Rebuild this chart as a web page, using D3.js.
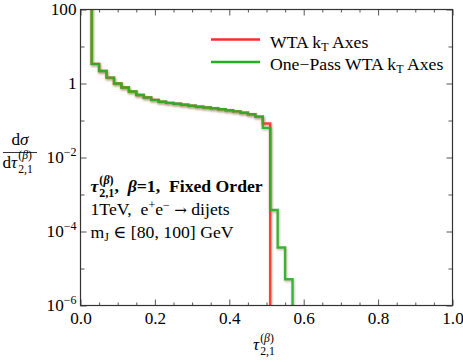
<!DOCTYPE html>
<head>
    <meta charset="utf-8">
    <title>tau21 fixed order</title>
    <style>
        html, body {
            margin: 0;
            background: #fff;
        }

        svg text {
            font-family: "Liberation Serif", "DejaVu Serif", serif;
            fill: #000;
        }
    </style>
</head>
<body>
<script src="https://cdn.jsdelivr.net/npm/d3@7"></script>
<script>

    // histogram bin edges (width 0.02), first bin is off the top of the plot
    const binEdges = [0.01, 0.03, 0.05, 0.07, 0.09, 0.11, 0.13, 0.15, 0.17, 0.19, 0.21, 0.23, 0.25, 0.27, 0.29,
        0.31, 0.33, 0.35, 0.37, 0.39, 0.41, 0.43, 0.45, 0.47, 0.49, 0.51, 0.53, 0.55, 0.57];

    const wtaValues = [1e4, 3.4, 2.17, 1.44, 1.0, 0.78, 0.61, 0.49, 0.42, 0.36, 0.32, 0.30, 0.284, 0.267, 0.251,
        0.236, 0.224, 0.214, 0.202, 0.19, 0.176, 0.162, 0.148, 0.127, 0.083];

    const onePassValues = [1e4, 3.4, 2.17, 1.44, 1.0, 0.78, 0.61, 0.49, 0.42, 0.36, 0.32, 0.30, 0.284, 0.267, 0.251,
        0.236, 0.224, 0.214, 0.202, 0.19, 0.176, 0.162, 0.148, 0.127, 0.063, 3.8e-4, 3.7e-5, 5.1e-6];

    const seriesNames = ["WTA k|T| Axes", "One\u2212Pass WTA k|T| Axes"];
    const seriesColors = ["#ff2a2a", "#22b022"];

    const xTicks = [0, 0.2, 0.4, 0.6, 0.8, 1.0];
    const xTickLabels = ["0.0", "0.2", "0.4", "0.6", "0.8", "1.0"];
    const xMinorTicks = [0.05, 0.1, 0.15, 0.25, 0.3, 0.35, 0.45, 0.5, 0.55, 0.65, 0.7, 0.75, 0.85, 0.9, 0.95];
    const yTicks = [100, 1, 1e-2, 1e-4, 1e-6];
    const yTickLabels = [["100", ""], ["1", ""], ["10", "\u22122"], ["10", "\u22124"], ["10", "\u22126"]];
    const yMinorTicks = [10, 0.1, 1e-3, 1e-5];

    const width = 463,
        height = 362;
    const x0 = 80.5, x1 = 452.5, y0 = 9.5, y1 = 305.5;
    const fs = 17.2, ss = 12;
    const ts = 17.7; // legend and annotation text

    const svg = d3.select("body").append("svg")
        .attr("width", width)
        .attr("height", height);

    const x = d3.scaleLinear().domain([0, 1]).range([x0, x1]);
    const y = d3.scaleLog().domain([1e-6, 100]).range([y1, y0]);

    const defs = svg.append("defs");
    defs.append("clipPath").attr("id", "plot")
        .append("rect").attr("x", x0).attr("y", y0).attr("width", x1 - x0).attr("height", y1 - y0);
    defs.append("filter").attr("id", "shadow")
        .attr("filterUnits", "userSpaceOnUse")
        .attr("x", 0).attr("y", 0).attr("width", width).attr("height", height)
        .append("feDropShadow")
        .attr("dx", 0.6).attr("dy", 1.3).attr("stdDeviation", 1)
        .attr("flood-color", "#8a7444").attr("flood-opacity", 0.6);

    function stepPoints(values) {
        const pts = [];
        values.forEach((v, i) => {
            pts.push([binEdges[i], v]);
            pts.push([binEdges[i + 1], v]);
        });
        pts.push([binEdges[values.length], 1e-9]);
        return pts;
    }

    const line = d3.line().x(d => x(d[0])).y(d => y(Math.max(d[1], 1e-9)));

    const curves = svg.append("g").attr("clip-path", "url(#plot)");
    [wtaValues, onePassValues].forEach((vals, i) => {
        curves.append("path")
            .attr("d", line(stepPoints(vals)))
            .attr("fill", "none")
            .attr("stroke", seriesColors[i])
            .attr("stroke-width", 2.4)
            .attr("stroke-opacity", 0.9)
            .attr("filter", "url(#shadow)");
    });

    // axes: ticks point inward on all four sides
    const gx = svg.append("g").attr("transform", `translate(0,${y1})`)
        .call(d3.axisBottom(x).tickValues(xTicks).tickSize(-6).tickPadding(6)
            .tickFormat((d, i) => xTickLabels[i]));
    svg.append("g").attr("transform", `translate(0,${y1})`)
        .call(d3.axisBottom(x).tickValues(xMinorTicks).tickSize(-3).tickFormat(""));
    svg.append("g").attr("transform", `translate(0,${y0})`)
        .call(d3.axisTop(x).tickValues(xTicks).tickSize(-6).tickFormat(""));
    svg.append("g").attr("transform", `translate(0,${y0})`)
        .call(d3.axisTop(x).tickValues(xMinorTicks).tickSize(-3).tickFormat(""));
    svg.append("g").attr("transform", `translate(${x0},0)`)
        .call(d3.axisLeft(y).tickValues(yTicks).tickSize(-6).tickFormat(""));
    svg.append("g").attr("transform", `translate(${x0},0)`)
        .call(d3.axisLeft(y).tickValues(yMinorTicks).tickSize(-4).tickFormat(""));
    svg.append("g").attr("transform", `translate(${x1},0)`)
        .call(d3.axisRight(y).tickValues(yTicks).tickSize(-6).tickFormat(""));
    svg.append("g").attr("transform", `translate(${x1},0)`)
        .call(d3.axisRight(y).tickValues(yMinorTicks).tickSize(-4).tickFormat(""));

    svg.selectAll(".domain").remove();
    svg.selectAll(".tick line").attr("stroke", "#555").attr("stroke-width", 1);
    gx.selectAll("text")
        .style("font-family", '"Liberation Serif", serif')
        .attr("font-size", fs).attr("fill", "#000");

    // y tick labels with superscript exponents
    yTicks.forEach((v, i) => {
        const t = svg.append("text")
            .attr("x", x0 - 4)
            .attr("y", y(v) + 5.5)
            .attr("text-anchor", "end")
            .attr("font-size", fs);
        t.append("tspan").text(yTickLabels[i][0]);
        if (yTickLabels[i][1]) {
            t.append("tspan").attr("font-size", ss).attr("dy", -7).text(yTickLabels[i][1]);
        }
    });

    svg.append("rect")
        .attr("x", x0).attr("y", y0)
        .attr("width", x1 - x0).attr("height", y1 - y0)
        .attr("fill", "none").attr("stroke", "#333").attr("stroke-width", 1.2);

    // base text followed by stacked subscript and superscript
    function scripted(g, px, py, base, sub, sup, opts) {
        const size = opts.size || fs;
        const t = g.append("text").attr("x", px).attr("y", py)
            .attr("font-size", size).attr("font-weight", opts.bold ? "bold" : null);
        base.forEach(b => t.append("tspan").attr("font-style", b.italic ? "italic" : null).text(b.text));
        const w = t.node().getComputedTextLength();
        const s1 = g.append("text").attr("x", px + w + 1).attr("y", py + size * 0.3)
            .attr("font-size", size * 0.68).attr("font-weight", opts.bold ? "bold" : null).text(sub);
        const s2 = g.append("text").attr("x", px + w + 1).attr("y", py - size * 0.48)
            .attr("font-size", size * 0.68).attr("font-weight", opts.bold ? "bold" : null);
        s2.append("tspan").text("(");
        s2.append("tspan").attr("font-style", "italic").text("\u03b2");
        s2.append("tspan").text(")");
        if (!sup) s2.remove();
        return px + w + 1 + Math.max(s1.node().getComputedTextLength(),
            sup ? s2.node().getComputedTextLength() : 0);
    }

    // y label as a fraction
    const yl = svg.append("g");
    const num = yl.append("text").attr("x", 20).attr("y", 145)
        .attr("text-anchor", "middle").attr("font-size", fs);
    num.append("tspan").text("d");
    num.append("tspan").attr("font-style", "italic").text("\u03c3");
    yl.append("line").attr("x1", 3).attr("x2", 37).attr("y1", 152.5).attr("y2", 152.5)
        .attr("stroke", "#000").attr("stroke-width", 0.8);
    scripted(yl, 2.5, 167.5, [{text: "d"}, {text: "\u03c4", italic: true}], "2,1", true, {});

    // x label
    scripted(svg.append("g"), 253, 350, [{text: "\u03c4", italic: true}], "2,1", true, {});

    // annotation
    const ann = svg.append("g");
    const ax = 90.5;
    let endX = scripted(ann, ax, 192, [{text: "\u03c4", italic: true}], "2,1", true, {bold: true, size: ts});
    const l1 = ann.append("text").attr("x", endX).attr("y", 192)
        .attr("font-size", ts).attr("font-weight", "bold").attr("xml:space", "preserve");
    l1.append("tspan").text(",  ");
    l1.append("tspan").attr("font-style", "italic").text("\u03b2");
    l1.append("tspan").text("=1,  Fixed Order");

    const l2 = ann.append("text").attr("x", ax).attr("y", 215)
        .attr("font-size", ts).attr("xml:space", "preserve");
    l2.append("tspan").text("1TeV,  e");
    l2.append("tspan").attr("font-size", ss).attr("dy", -6).text("+");
    l2.append("tspan").attr("dy", 6).text("e");
    l2.append("tspan").attr("font-size", ss).attr("dy", -6).text("\u2212");
    l2.append("tspan").attr("dy", 6).text(" ");
    l2.append("tspan").style("font-family", '"DejaVu Serif", serif').attr("font-size", ts * 0.85).text("\u2192");
    l2.append("tspan").text(" dijets");

    const l3 = ann.append("text").attr("x", ax).attr("y", 238)
        .attr("font-size", ts).attr("xml:space", "preserve");
    l3.append("tspan").text("m");
    l3.append("tspan").attr("font-size", ss).attr("dy", 3).text("J");
    l3.append("tspan").attr("dy", -3).text(" \u2208 [80, 100] GeV");

    // legend
    const legend = svg.append("g");
    seriesNames.forEach((name, i) => {
        const ly = 39.5 + i * 22.5;
        legend.append("line")
            .attr("x1", 211).attr("x2", 260).attr("y1", ly).attr("y2", ly)
            .attr("stroke", seriesColors[i]).attr("stroke-width", 2.4);
        const parts = name.split("|");
        const t = legend.append("text").attr("x", 270).attr("y", ly + 8)
            .attr("font-size", ts).attr("xml:space", "preserve");
        t.append("tspan").text(parts[0]);
        t.append("tspan").attr("font-size", ss).attr("dy", 3).text(parts[1]);
        t.append("tspan").attr("dy", -3).text(parts[2]);
    });

</script>
</body>
